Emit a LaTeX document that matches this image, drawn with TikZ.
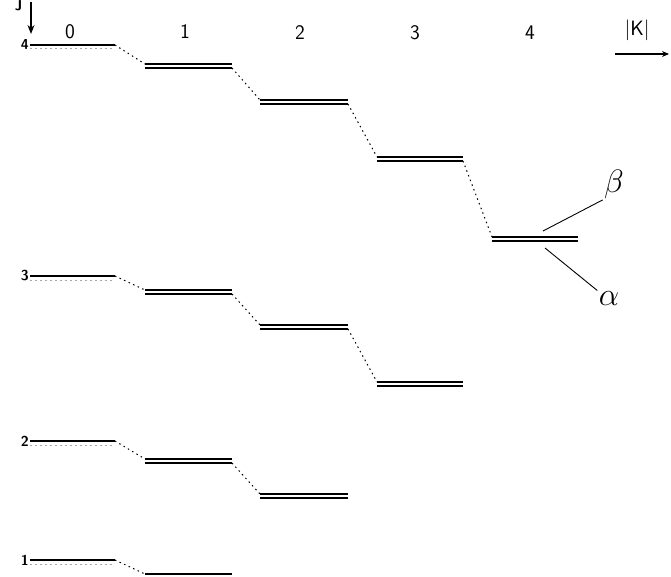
\documentclass[tikz,border=0pt]{standalone}
\usetikzlibrary{arrows.meta}
\newcommand\dlev[4]{%
  \coordinate (#1w) at (#2,#4); \coordinate (#1e) at (#3,#4);
  \draw[lvl] ([yshift=2pt]#1w) -- ([yshift=2pt]#1e);
  \draw[lvl] ([yshift=-2pt]#1w) -- ([yshift=-2pt]#1e);}
\newcommand\slev[4]{%
  \coordinate (#1w) at (#2,#4); \coordinate (#1e) at (#3,#4);
  \draw[lvl] (#1w) -- (#1e);
  \draw[conn, gray!70] ([yshift=-4pt]#1w) -- ([yshift=-4pt]#1e);}
\begin{document}
\begin{tikzpicture}[x=1pt,y=-1pt,
  lvl/.style={line width=1.2pt, black},
  conn/.style={dash pattern=on 1.5pt off 3.5pt, line width=1pt},
  hdr/.style={font=\sffamily\huge},
  jlab/.style={font=\sffamily\bfseries\Large, anchor=east, inner sep=1pt},
  greek/.style={font=\Huge, scale=1.3, inner sep=1pt},
  ptr/.style={line width=0.9pt}]
\useasboundingbox (0,0) rectangle (671,577);
% header
\node[hdr] (h0) at (70,32) {0};
\node[hdr] (h1) at (185,32) {1};
\node[hdr] (h2) at (300,33) {2};
\node[hdr] (h3) at (415,33) {3};
\node[hdr] (h4) at (530,33) {4};
\node[hdr] (hk) at (637,30) {$|\mathsf{K}|$};
\coordinate (ka) at (615,54); \coordinate (kb) at (669,54);
\draw[line width=1.2pt,-{Stealth[length=7pt,width=6pt]}] (ka) -- (kb);
\node[font=\sffamily\bfseries\Large, anchor=east] (jl) at (26,6) {J};
\coordinate (ja) at (31,2); \coordinate (jb) at (31,34);
\draw[line width=1.4pt,-{Stealth[length=9pt,width=7pt]}] (ja) -- (jb);
% J = 4
\slev{a0}{30}{115}{45}
\dlev{a1}{145}{232}{66}
\dlev{a2}{260}{348}{102}
\dlev{a3}{377}{463}{159}
\dlev{a4}{492}{578}{239}
\node[jlab] (l4) at (a0w) {4};
\draw[conn] (a0e) -- ([yshift=2pt]a1w);
\draw[conn] ([yshift=-2pt]a1e) -- ([yshift=2pt]a2w);
\draw[conn] ([yshift=-2pt]a2e) -- ([yshift=2pt]a3w);
\draw[conn] ([yshift=-2pt]a3e) -- ([yshift=2pt]a4w);
% J = 3
\slev{b0}{30}{115}{276}
\dlev{b1}{145}{232}{292}
\dlev{b2}{260}{348}{327}
\dlev{b3}{377}{463}{384}
\node[jlab] (l3) at (b0w) {3};
\draw[conn] (b0e) -- ([yshift=2pt]b1w);
\draw[conn] ([yshift=-2pt]b1e) -- ([yshift=2pt]b2w);
\draw[conn] ([yshift=-2pt]b2e) -- ([yshift=2pt]b3w);
% J = 2
\slev{c0}{30}{115}{441}
\dlev{c1}{145}{232}{461}
\dlev{c2}{260}{348}{496}
\node[jlab] (l2) at (c0w) {2};
\draw[conn] (c0e) -- ([yshift=2pt]c1w);
\draw[conn] ([yshift=-2pt]c1e) -- ([yshift=2pt]c2w);
% J = 1
\slev{d0}{30}{115}{560}
\coordinate (d1w) at (145,574); \coordinate (d1e) at (232,574);
\draw[lvl] (d1w) -- (d1e);
\node[jlab] (l1) at (d0w) {1};
\draw[conn] (d0e) -- (d1w);
% alpha / beta
\node[greek] (be) at (614,184) {$\beta$};
\node[greek] (al) at (609,299) {$\alpha$};
\coordinate (pb) at (543,231); \coordinate (pa) at (545,248);
\draw[ptr] (pb) -- (be.south west);
\draw[ptr] (pa) -- (al.north west);
\end{tikzpicture}
\end{document}
